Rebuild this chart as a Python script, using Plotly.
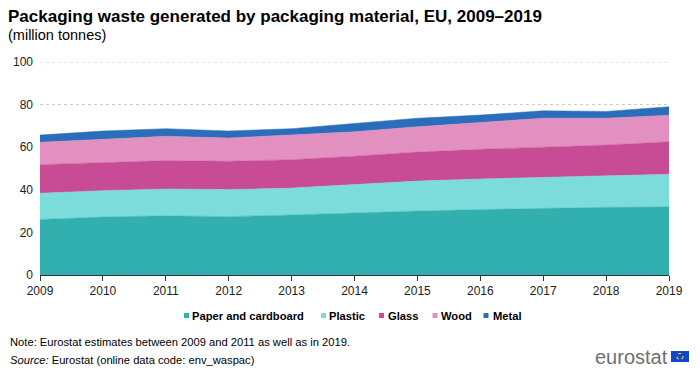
import plotly.graph_objects as go

years = [2009, 2010, 2011, 2012, 2013, 2014, 2015, 2016, 2017, 2018, 2019]
paper = [26.1, 27.2, 27.8, 27.4, 28.2, 29.2, 30.0, 30.7, 31.3, 31.8, 31.9]
plastic = [12.3, 12.4, 12.6, 12.7, 12.6, 13.4, 14.1, 14.4, 14.6, 14.7, 15.4]
glass = [13.4, 13.1, 13.3, 13.3, 13.3, 13.2, 13.6, 13.9, 14.2, 14.5, 15.3]
wood = [10.5, 11.1, 11.4, 10.9, 11.5, 11.4, 11.9, 12.7, 13.5, 12.6, 12.4]
metal = [3.4, 3.8, 3.6, 3.3, 3.1, 3.8, 4.0, 3.4, 3.5, 3.2, 4.0]

names = ["Paper and cardboard", "Plastic", "Glass", "Wood", "Metal"]
colors = ["#32AFAF", "#7CDCDA", "#C84B96", "#E190BF", "#2A6EBB"]
values = [paper, plastic, glass, wood, metal]
y_ticks = [0, 20, 40, 60, 80, 100]

FONT = "Liberation Sans, Arial, sans-serif"

# The page body has an 8px margin; draw the figure 8px smaller and
# express all pixel positions in page coordinates.
OFF = 8
W, H = 700 - OFF, 370 - OFF
PL, PR, PT, PB = 40, 669, 62, 275  # plot area in page pixels

fig = go.Figure()
for name, vals, col in zip(names, values, colors):
    fig.add_trace(go.Scatter(
        x=years, y=vals, name=name, mode="lines", stackgroup="one",
        line=dict(width=0.5, color=col), fillcolor=col, showlegend=False,
    ))

fig.update_layout(
    width=W, height=H,
    margin=dict(l=PL - OFF, r=700 - PR, t=PT - OFF, b=370 - PB, autoexpand=False),
    plot_bgcolor="white", paper_bgcolor="white",
    font=dict(family=FONT, size=12, color="#000"),
    showlegend=False,
    xaxis=dict(range=[2009, 2019], tickmode="array", tickvals=years,
               ticktext=[str(y) for y in years], showgrid=False,
               showline=True, linecolor="#333", linewidth=1,
               ticks="outside", ticklen=5, tickcolor="#333",
               tickfont=dict(size=12, color="#222"), zeroline=False),
    yaxis=dict(range=[0, 100], tickvals=y_ticks,
               showgrid=True, gridcolor="#cccccc", griddash="dot", gridwidth=1,
               showline=False, zeroline=False, ticks="", ticklabelstandoff=6,
               tickfont=dict(size=12, color="#222")),
)

# gridline at the top of the range (not drawn by plotly at the edge)
fig.add_shape(type="line", xref="paper", yref="y", x0=0, x1=1, y0=100, y1=100,
              line=dict(color="#cccccc", width=1, dash="dot"), layer="below")

plot_w = PR - PL
plot_h = PB - PT
def px_x(px):
    return (px - PL) / plot_w
def px_y(py):
    return (PB - py) / plot_h

def text(t, x, y, size, color="#000", anchor="left"):
    fig.add_annotation(text=t, x=px_x(x), y=px_y(y), xref="paper", yref="paper",
                       showarrow=False, xanchor=anchor, yanchor="middle",
                       font=dict(size=size, family=FONT, color=color), borderpad=0)

text("<b>Packaging waste generated by packaging material, EU, 2009–2019</b>", 7, 16, 17)
text("(million tonnes)", 7, 35, 14.5)
text("Note: Eurostat estimates between 2009 and 2011 as well as in 2019.", 9, 342, 11.2)
text("<i>Source:</i> Eurostat (online data code: env_waspac)", 9, 360, 11.2)

# legend as annotations
marker_x = [186.5, 323.5, 381.5, 435, 486]
text_x = [191, 328, 387, 440, 492]
for name, col, mx, tx in zip(names, colors, marker_x, text_x):
    fig.add_shape(type="rect", xref="paper", yref="paper",
                  x0=px_x(mx - 2.5), x1=px_x(mx + 2.5),
                  y0=px_y(318), y1=px_y(313), fillcolor=col, line=dict(width=0))
    text("<b>" + name + "</b>", tx, 315.5, 11.2)

# eurostat logo
text("eurostat", 669, 357, 20, color="#6f6f6f", anchor="right")
fig.add_shape(type="rect", xref="paper", yref="paper",
              x0=px_x(671), x1=px_x(689), y0=px_y(362), y1=px_y(351),
              fillcolor="#0E47CB", line=dict(width=0))
fig.add_shape(type="circle", xref="paper", yref="paper",
              x0=px_x(677), x1=px_x(683), y0=px_y(359.5), y1=px_y(353.5),
              line=dict(color="#FFDD00", width=1.2, dash="dot"))

fig.write_html("out.html")
